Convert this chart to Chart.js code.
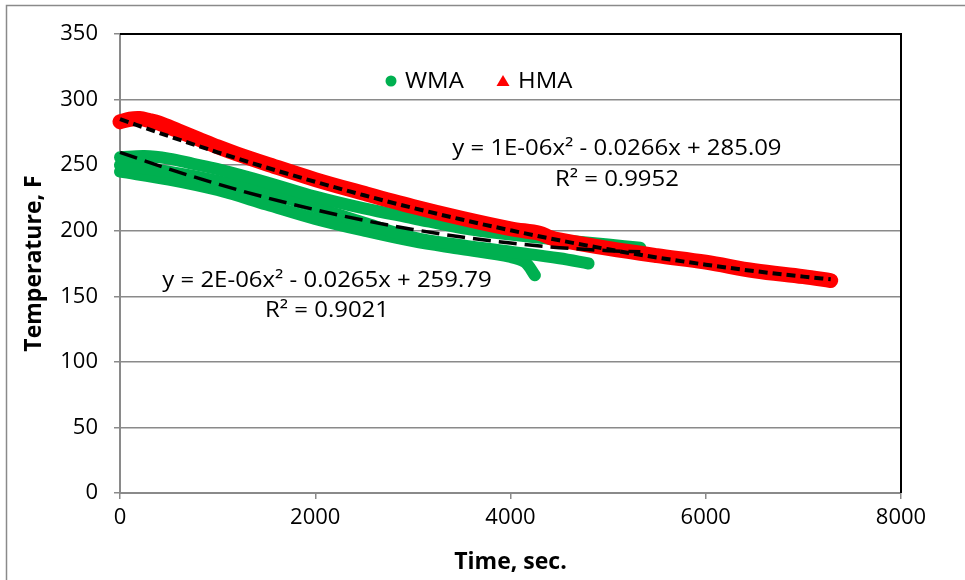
<!DOCTYPE html>
<html>
<head>
<meta charset="utf-8">
<script src="https://cdn.jsdelivr.net/npm/chart.js@4.4.1/dist/chart.umd.min.js"></script>
<style>
html,body{margin:0;padding:0;background:#fff;}
canvas{display:block;}
</style>
</head>
<body>
<canvas id="c" width="965" height="580"></canvas>
<script>
// ---- Data ----
// WMA runs (time in s, temperature in F)
const wmaRun1Time = [0, 250, 500, 750, 1000, 1500, 2000, 2500, 3000, 3500, 4000, 4500, 5000, 5330];
const wmaRun1Temp = [256, 257, 255, 251, 247, 237, 226, 217, 209.5, 202, 197, 193, 189.5, 187];
const wmaRun2Time = [0, 500, 1000, 1500, 2000, 2500, 3000, 3500, 4000, 4500, 4800];
const wmaRun2Temp = [250, 245, 238, 229, 218, 206, 195, 189, 184, 179, 175];
const wmaRun3Time = [0, 500, 1000, 1500, 2000, 2500, 3000, 3500, 4000, 4150, 4250];
const wmaRun3Temp = [245, 239, 231, 220, 209, 200, 192, 186, 180, 176, 166];
// HMA run
const hmaTime = [0, 100, 200, 300, 400, 600, 800, 1000, 1200, 1500, 2000, 2500, 3000, 3500, 4000, 4300, 4400, 4500, 5000, 5500, 6000, 6500, 7000, 7280];
const hmaTemp = [283, 285, 285.5, 284, 282, 276, 270, 264, 258.5, 251, 239, 228.5, 218.5, 209.5, 201.5, 198, 195, 193, 186.5, 181, 176, 169.5, 165, 162];
// Trendlines
const wmaTrendTime = [0, 500, 1000, 1500, 2000, 2500, 3000, 3500, 4000, 4500, 5000, 5330];
const wmaTrendTemp = [259.8, 247.1, 235.6, 225.2, 216.0, 207.9, 201.0, 195.2, 190.6, 187.1, 184.8, 183.9];
const hmaTrendTime = [0, 500, 1000, 1500, 2000, 2500, 3000, 3500, 4000, 4500, 5000, 5500, 6000, 6500, 7000, 7280];
const hmaTrendTemp = [285.1, 272.1, 259.8, 248.2, 237.3, 227.0, 217.4, 208.5, 200.3, 192.7, 185.8, 179.6, 174.1, 169.2, 165.0, 163.0];
// Labels / text
const seriesNames = ['WMA', 'HMA'];
const hmaEquation = ['y = 1E-06x² - 0.0266x + 285.09', 'R² = 0.9952'];
const wmaEquation = ['y = 2E-06x² - 0.0265x + 259.79', 'R² = 0.9021'];
const xTitle = 'Time, sec.';
const yTitle = 'Temperature, F';
const xTicks = [0, 2000, 4000, 6000, 8000];
const yTicks = [0, 50, 100, 150, 200, 250, 300, 350];

const GREEN = '#00B050';
const RED = '#FF0000';
const FONT = '"Open Sans"';

function pts(t, v) { return t.map((x, i) => ({x: x, y: v[i]})); }

const dataRun = (label, t, v, color, style, width, order) => ({
  label: label, data: pts(t, v), showLine: true,
  borderColor: color, backgroundColor: color, borderWidth: width,
  borderCapStyle: 'round', borderJoinStyle: 'round',
  pointRadius: 0, pointHoverRadius: 0, pointStyle: style,
  tension: 0.35, clip: false, order: order, fill: false
});
const trend = (label, t, v, dash, width) => ({
  label: label, data: pts(t, v), showLine: true,
  borderColor: '#000', backgroundColor: '#000', borderWidth: width, borderDash: dash,
  pointRadius: 0, cubicInterpolationMode: 'monotone', clip: false, order: 0, fill: false
});

function stretchText(ctx, text, x, y, sx) {
  ctx.save();
  ctx.translate(x, y);
  ctx.scale(sx, 1);
  ctx.fillText(text, 0, 0);
  ctx.restore();
}

const decor = {
  id: 'decor',
  beforeDraw(chart) {
    const ctx = chart.ctx;
    ctx.save();
    ctx.fillStyle = '#fff';
    ctx.fillRect(0, 0, chart.width, chart.height);
    ctx.strokeStyle = '#8a8a8a';
    ctx.lineWidth = 1.5;
    ctx.beginPath();
    ctx.moveTo(6.5, chart.height + 5);
    ctx.lineTo(6.5, 5.5);
    ctx.lineTo(chart.width + 5, 5.5);
    ctx.stroke();
    ctx.restore();
  },
  afterDatasetsDraw(chart) {
    const ctx = chart.ctx;
    const a = chart.chartArea;
    const xs = chart.scales.x, ys = chart.scales.y;
    ctx.save();
    // black top/right border of plot area
    ctx.strokeStyle = '#000';
    ctx.lineWidth = 2;
    ctx.beginPath();
    ctx.moveTo(a.left, a.top);
    ctx.lineTo(a.right, a.top);
    ctx.lineTo(a.right, a.bottom);
    ctx.stroke();
    // trendline labels
    ctx.fillStyle = '#000';
    ctx.font = '21px ' + FONT;
    ctx.textAlign = 'center';
    ctx.textBaseline = 'middle';
    const sx = 1.14;
    stretchText(ctx, hmaEquation[0], xs.getPixelForValue(5090), ys.getPixelForValue(262.5), sx);
    stretchText(ctx, hmaEquation[1], xs.getPixelForValue(5090), ys.getPixelForValue(238.5), sx);
    stretchText(ctx, wmaEquation[0], xs.getPixelForValue(2120), ys.getPixelForValue(161.5), sx);
    stretchText(ctx, wmaEquation[1], xs.getPixelForValue(2120), ys.getPixelForValue(138.5), sx);
    // legend
    const ly = 81;
    ctx.textAlign = 'left';
    ctx.fillStyle = GREEN;
    ctx.beginPath();
    ctx.arc(391, ly, 5.5, 0, Math.PI * 2);
    ctx.fill();
    ctx.fillStyle = '#000';
    stretchText(ctx, seriesNames[0], 405, ly + 1, sx);
    ctx.fillStyle = RED;
    ctx.beginPath();
    ctx.moveTo(503, ly - 6);
    ctx.lineTo(509.5, ly + 5);
    ctx.lineTo(496.5, ly + 5);
    ctx.closePath();
    ctx.fill();
    ctx.fillStyle = '#000';
    stretchText(ctx, seriesNames[1], 518, ly + 1, sx);
    ctx.restore();
  }
};

new Chart(document.getElementById('c'), {
  type: 'scatter',
  data: {
    datasets: [
      trend('WMA trend', wmaTrendTime, wmaTrendTemp, [18, 8], 3.5),
      trend('HMA trend', hmaTrendTime, hmaTrendTemp, [9, 5], 4),
      dataRun(seriesNames[1], hmaTime, hmaTemp, RED, 'triangle', 15, 1),
      dataRun(seriesNames[0], wmaRun1Time, wmaRun1Temp, GREEN, 'circle', 12, 2),
      dataRun(seriesNames[0] + ' 2', wmaRun2Time, wmaRun2Temp, GREEN, 'circle', 12, 2),
      dataRun(seriesNames[0] + ' 3', wmaRun3Time, wmaRun3Temp, GREEN, 'circle', 12, 2)
    ]
  },
  options: {
    responsive: false,
    animation: false,
    devicePixelRatio: 1,
    layout: {padding: {left: 0, top: 34, right: 64, bottom: 0}},
    plugins: {legend: {display: false}, tooltip: {enabled: false}},
    scales: {
      x: {
        type: 'linear', min: 0, max: 8000,
        afterBuildTicks: s => { s.ticks = xTicks.map(v => ({value: v})); },
        ticks: {color: '#000', font: {family: FONT, size: 22}, padding: 6, maxRotation: 0, callback: v => String(v)},
        grid: {drawOnChartArea: false, drawTicks: true, tickLength: 6, color: '#8a8a8a', lineWidth: 1.5},
        border: {color: '#8a8a8a', width: 2},
        title: {display: true, text: xTitle, color: '#000', font: {family: FONT, size: 23, weight: 'bold'}, padding: {top: 0, bottom: 4}},
        afterFit: s => { s.height = 87; }
      },
      y: {
        type: 'linear', min: 0, max: 350,
        afterBuildTicks: s => { s.ticks = yTicks.map(v => ({value: v})); },
        ticks: {color: '#000', font: {family: FONT, size: 22}, padding: 16, callback: v => String(v)},
        grid: {color: '#8a8a8a', lineWidth: 1.5, tickLength: 6},
        border: {color: '#8a8a8a', width: 2},
        title: {display: true, text: yTitle, color: '#000', font: {family: FONT, size: 23, weight: 'bold'}, padding: {top: 21, bottom: 0}},
        afterFit: s => { s.width = 120; }
      }
    }
  },
  plugins: [decor]
});
</script>
</body>
</html>
